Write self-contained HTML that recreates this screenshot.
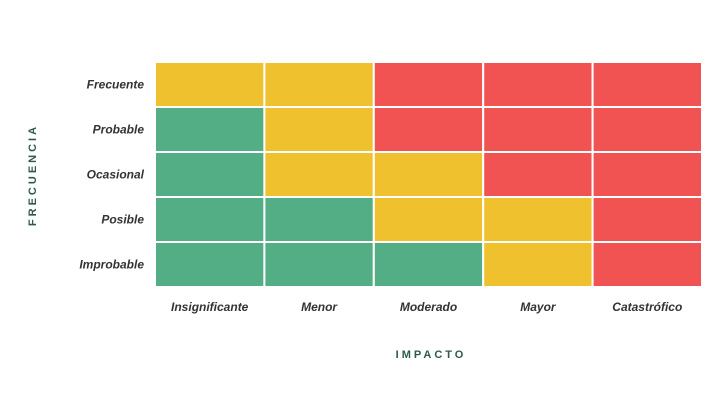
<!DOCTYPE html>
<html><head><meta charset="utf-8"><style>
body{margin:0;background:#fff;}
svg{display:block;font-family:"Liberation Sans",sans-serif;}
</style></head><body>
<svg id="chart" width="725" height="409">
<g id="cells"></g><g id="ylabels"></g><g id="xlabels"></g>
<text x="431" y="358" text-anchor="middle" font-size="11" font-weight="bold" letter-spacing="3" fill="#2e5a48">IMPACTO</text>
<text transform="translate(36,175) rotate(-90)" text-anchor="middle" font-size="11" font-weight="bold" letter-spacing="3" fill="#2e5a48">FRECUENCIA</text>
</svg>
<script>
const impacts=["Insignificante","Menor","Moderado","Mayor","Catastrófico"];
const frequencies=["Frecuente","Probable","Ocasional","Posible","Improbable"];
// risk level per row (top to bottom): 0=low,1=medium,2=high
const levels=[
[1,1,2,2,2],
[0,1,2,2,2],
[0,1,1,2,2],
[0,0,1,1,2],
[0,0,0,1,2]];
const levelColors=["#53ad85","#f0c12f","#f15353"];
const x0=155,y0=62,cw=109.4,rh=45;
const xPos=i=>x0+i*cw, yPos=j=>y0+j*rh;
const ns="http://www.w3.org/2000/svg";
const cells=document.getElementById('cells');
levels.forEach((row,j)=>row.forEach((v,i)=>{
 const r=document.createElementNS(ns,'rect');
 r.setAttribute('x',xPos(i));r.setAttribute('y',yPos(j));
 r.setAttribute('width',cw);r.setAttribute('height',rh);
 r.setAttribute('fill',levelColors[v]);r.setAttribute('stroke','#fff');r.setAttribute('stroke-width','2');
 
 
 cells.appendChild(r);
}));
const yl=document.getElementById('ylabels');
frequencies.forEach((f,j)=>{
 const t=document.createElementNS(ns,'text');
 t.setAttribute('x',144);t.setAttribute('y',yPos(j)+rh/2+4);
 t.setAttribute('text-anchor','end');t.setAttribute('font-size','12');t.setAttribute('font-weight','bold');t.setAttribute('font-style','italic');t.setAttribute('fill','#333');
 t.textContent=f;
 
 
 yl.appendChild(t);
});
const xl=document.getElementById('xlabels');
impacts.forEach((m,i)=>{
 const t=document.createElementNS(ns,'text');
 t.setAttribute('x',xPos(i)+cw/2);t.setAttribute('y',311);
 t.setAttribute('text-anchor','middle');t.setAttribute('font-size','12');t.setAttribute('font-weight','bold');t.setAttribute('font-style','italic');t.setAttribute('fill','#333');
 t.textContent=m;
 
 
 xl.appendChild(t);
});
</script>
</body></html>
